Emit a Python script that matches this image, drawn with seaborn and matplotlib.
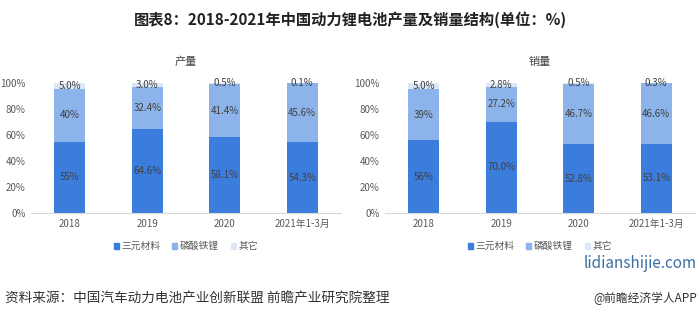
import matplotlib
matplotlib.use("Agg")
import matplotlib.pyplot as plt
import seaborn as sns
import pandas as pd
import numpy as np
from matplotlib.patches import Rectangle

sns.set_theme(style="white")
plt.rcParams['font.family'] = ['Noto Sans CJK SC', 'DejaVu Sans']

categories = ["2018", "2019", "2020", "2021年1-3月"]
series_names = ["三元材料", "磷酸铁锂", "其它"]

prod_ncm = [55, 64.6, 58.1, 54.3]
prod_lfp = [40, 32.4, 41.4, 45.6]
prod_other = [5.0, 3.0, 0.5, 0.1]
prod_ncm_lbl = ["55%", "64.6%", "58.1%", "54.3%"]
prod_lfp_lbl = ["40%", "32.4%", "41.4%", "45.6%"]
prod_other_lbl = ["5.0%", "3.0%", "0.5%", "0.1%"]

sale_ncm = [56, 70.0, 52.8, 53.1]
sale_lfp = [39, 27.2, 46.7, 46.6]
sale_other = [5.0, 2.8, 0.5, 0.3]
sale_ncm_lbl = ["56%", "70.0%", "52.8%", "53.1%"]
sale_lfp_lbl = ["39%", "27.2%", "46.7%", "46.6%"]
sale_other_lbl = ["5.0%", "2.8%", "0.5%", "0.3%"]

colors = ["#3b7ddd", "#8db4ea", "#dde7f6"]
tick_color = "#595959"
label_color = "#404040"

fig = plt.figure(figsize=(7, 3.19), dpi=100)

def draw(ax, ncm, lfp, other, lbls, subtitle):
    ncm = np.array(ncm); lfp = np.array(lfp); other = np.array(other)
    layers = [ncm + lfp + other, ncm + lfp, ncm]
    layer_colors = [colors[2], colors[1], colors[0]]
    for vals, c in zip(layers, layer_colors):
        df = pd.DataFrame({"cat": categories, "val": vals})
        sns.barplot(data=df, x="cat", y="val", color=c, width=0.4,
                    saturation=1, ax=ax, errorbar=None, order=categories,
                    linewidth=0, edgecolor="none")
    bottoms = [np.zeros(4), ncm, ncm + lfp]
    heights = [ncm, lfp, other]
    for b, h, lb in zip(bottoms, heights, lbls):
        for i in range(4):
            ax.text(i, b[i] + h[i] / 2, lb[i], ha="center", va="center",
                    fontsize=7, color=label_color)
    ax.set_xlim(-0.5, 3.5)
    ax.set_ylim(0, 100)
    ax.set_yticks([0, 20, 40, 60, 80, 100])
    ax.set_yticklabels([f"{v}%" for v in [0, 20, 40, 60, 80, 100]])
    ax.set_xlabel("")
    ax.set_ylabel("")
    for s in ["top", "right", "left"]:
        ax.spines[s].set_visible(False)
    ax.spines["bottom"].set_color("#d9d9d9")
    ax.spines["bottom"].set_linewidth(0.8)
    ax.tick_params(axis="both", labelsize=7, colors=tick_color, length=0, pad=4)
    ax.set_title(subtitle, fontsize=8, color="#404040", pad=13)
    handles = [Rectangle((0, 0), 1, 1, color=c) for c in colors]
    ax.legend(handles, series_names, loc="upper center", bbox_to_anchor=(0.5, -0.15),
              ncol=3, frameon=False, fontsize=7, handlelength=0.5, handleheight=0.5,
              handletextpad=0.3, columnspacing=1.2, labelcolor=tick_color)

ax1 = fig.add_axes([31 / 700, 106 / 319, 310 / 700, 130 / 319])
ax2 = fig.add_axes([385 / 700, 106 / 319, 310 / 700, 130 / 319])
draw(ax1, prod_ncm, prod_lfp, prod_other, [prod_ncm_lbl, prod_lfp_lbl, prod_other_lbl], "产量")
draw(ax2, sale_ncm, sale_lfp, sale_other, [sale_ncm_lbl, sale_lfp_lbl, sale_other_lbl], "销量")

fig.text(0.5, 1 - 20 / 319, "图表8：2018-2021年中国动力锂电池产量及销量结构(单位：%)",
         ha="center", va="center", fontsize=11, fontweight="bold", color="#222222")
fig.text(5 / 700, 1 - 298 / 319, "资料来源：中国汽车动力电池产业创新联盟 前瞻产业研究院整理",
         ha="left", va="center", fontsize=9.8, color="#333333")
fig.text(640 / 700, 1 - 263 / 319, "lidianshijie.com", ha="center", va="center",
         fontsize=11, color="#3a6ea5")
fig.text(697 / 700, 1 - 298 / 319, "@前瞻经济学人APP", ha="right", va="center",
         fontsize=8.5, color="#333333")

fig.savefig("out.png", dpi=100)
